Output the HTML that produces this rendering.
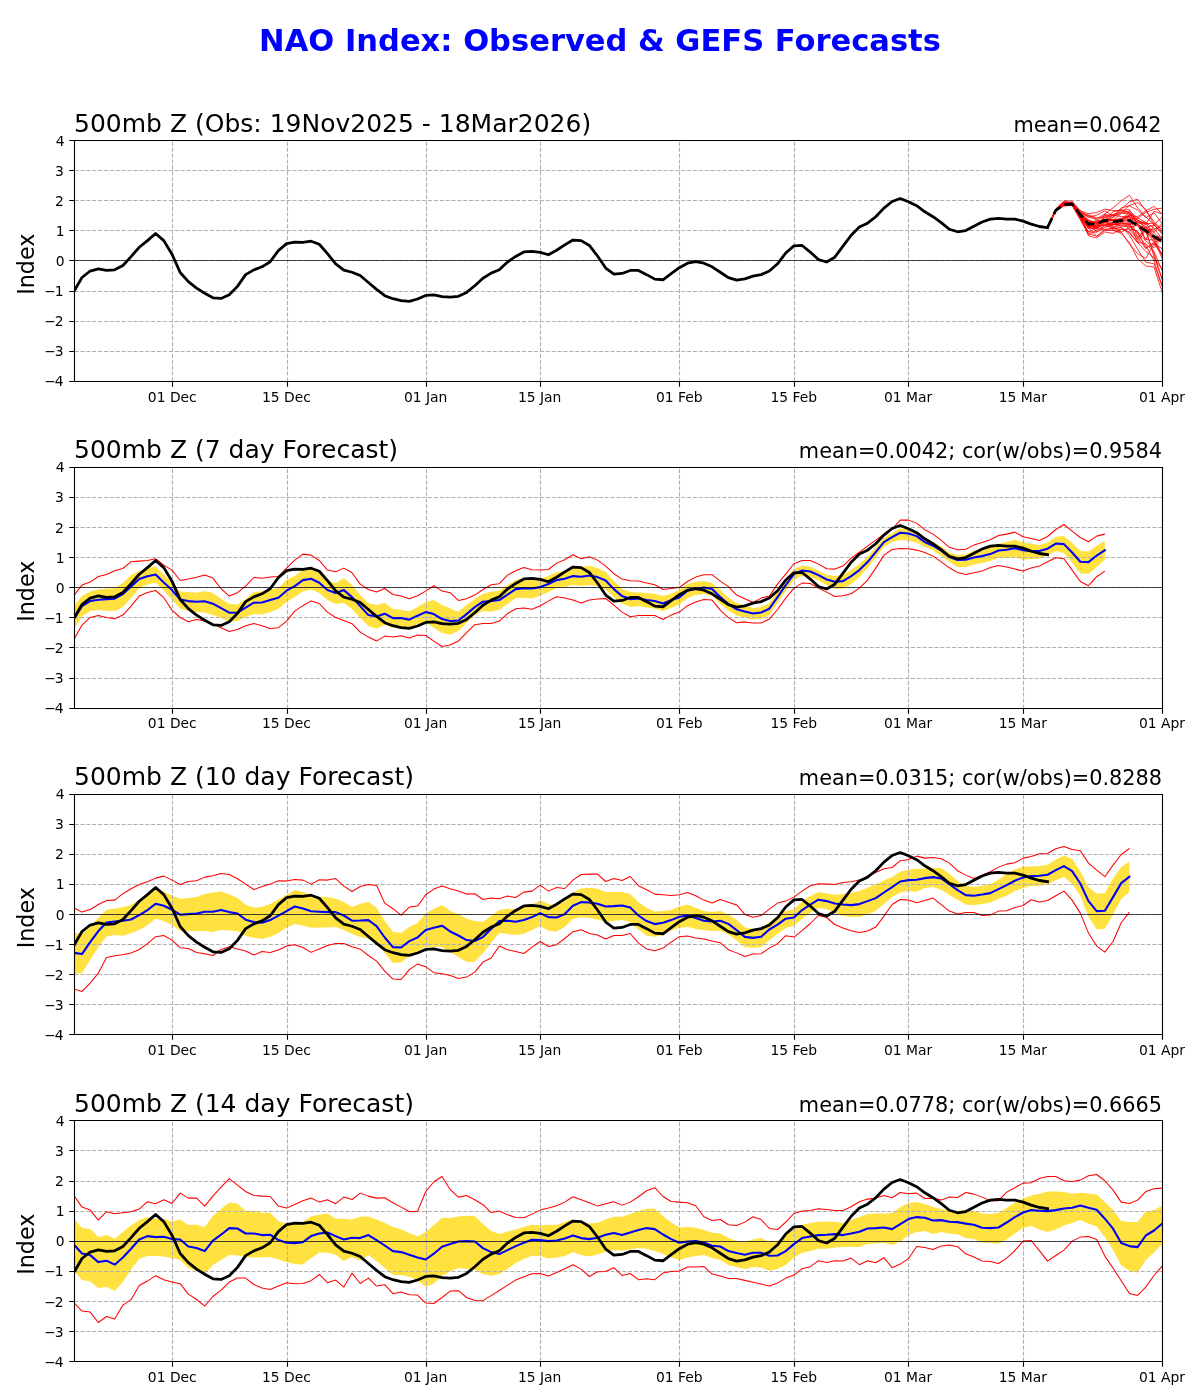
<!DOCTYPE html>
<html lang="en">
<head>
<meta charset="utf-8">
<title>NAO Index: Observed &amp; GEFS Forecasts</title>
<style>
html,body{margin:0;padding:0;background:#fff;}
body{width:1200px;height:1400px;overflow:hidden;}
svg{display:block;}
text{font-family:"DejaVu Sans", "Liberation Sans", sans-serif;fill:#000;}
.tk{font-size:13.89px;}
.pt{font-size:25.0px;}
.rt{font-size:20.83px;text-anchor:end;}
.yl{font-size:22.22px;text-anchor:middle;}
.g{stroke:#b0b0b0;stroke-width:1.11;stroke-dasharray:4.11 1.78;fill:none;}
.sp{stroke:#000;stroke-width:1.11;fill:none;stroke-linecap:square;}
.t{stroke:#000;stroke-width:1.11;fill:none;}
.z{stroke:#000;stroke-width:0.69;fill:none;}
.r{stroke:#ff0000;stroke-width:1.04;fill:none;stroke-linejoin:round;}
.m{stroke:#ff0000;stroke-width:0.8;fill:none;stroke-linejoin:round;}
.b{stroke:#0000ff;stroke-width:2.08;fill:none;stroke-linejoin:round;stroke-linecap:square;}
.o{stroke:#000;stroke-width:2.78;fill:none;stroke-linejoin:round;stroke-linecap:square;}
.d{stroke:#000;stroke-width:2.78;fill:none;stroke-linejoin:round;stroke-dasharray:10.28 4.44;}
.y{fill:#ffe140;stroke:none;}
</style>
</head>
<body>
<svg width="1200" height="1400" viewBox="0 0 1200 1400">
<rect x="0" y="0" width="1200" height="1400" fill="#ffffff"/>
<text x="600" y="51" text-anchor="middle" style="font-size:30.56px;font-weight:bold;fill:#0000ff">NAO Index: Observed &amp; GEFS Forecasts</text>
<defs>
<clipPath id="c0"><rect x="74.5" y="140.5" width="1088.0" height="241.0"/></clipPath>
<clipPath id="c1"><rect x="74.5" y="467.5" width="1088.0" height="241.0"/></clipPath>
<clipPath id="c2"><rect x="74.5" y="794.5" width="1088.0" height="240.0"/></clipPath>
<clipPath id="c3"><rect x="74.5" y="1120.5" width="1088.0" height="241.0"/></clipPath>
</defs>
<g id="panel1">
<g clip-path="url(#c0)">
<path class="g" d="M172.5,381.5V140.5M287.5,381.5V140.5M426.5,381.5V140.5M540.5,381.5V140.5M679.5,381.5V140.5M794.5,381.5V140.5M908.5,381.5V140.5M1023.5,381.5V140.5"/>
<path class="g" d="M74.5,351.5H1162.5M74.5,321.5H1162.5M74.5,291.5H1162.5M74.5,260.5H1162.5M74.5,230.5H1162.5M74.5,200.5H1162.5M74.5,170.5H1162.5"/>
<path class="m" d="M1047.58,227.46 L1055.76,210.82 L1063.94,205.24 L1072.13,205.02 L1080.31,216.87 L1088.49,228.29 L1096.67,228.77 L1104.86,213.86 L1113.04,207.85 L1121.22,200.93 L1129.41,195.21 L1137.59,207.85 L1145.77,216.87 L1153.96,224.40 L1162.14,233.42 L1170.32,242.45 L1178.50,251.47"/>
<path class="m" d="M1047.58,227.46 L1055.76,209.82 L1063.94,203.87 L1072.13,203.52 L1080.31,214.81 L1088.49,225.41 L1096.67,226.28 L1104.86,216.87 L1113.04,215.37 L1121.22,209.35 L1129.41,201.83 L1137.59,199.12 L1145.77,210.86 L1153.96,221.39 L1162.14,230.41 L1170.32,239.44 L1178.50,248.47"/>
<path class="m" d="M1047.58,227.46 L1055.76,209.81 L1063.94,205.01 L1072.13,204.18 L1080.31,215.78 L1088.49,226.95 L1096.67,224.96 L1104.86,220.39 L1113.04,219.88 L1121.22,218.38 L1129.41,215.37 L1137.59,216.87 L1145.77,210.86 L1153.96,206.34 L1162.14,213.86 L1170.32,221.39 L1178.50,228.91"/>
<path class="m" d="M1047.58,227.46 L1055.76,210.26 L1063.94,204.48 L1072.13,203.97 L1080.31,214.70 L1088.49,224.12 L1096.67,228.77 L1104.86,219.64 L1113.04,220.29 L1121.22,221.39 L1129.41,219.88 L1137.59,218.38 L1145.77,212.36 L1153.96,209.35 L1162.14,208.15 L1170.32,206.94 L1178.50,205.74"/>
<path class="m" d="M1047.58,227.46 L1055.76,209.90 L1063.94,203.03 L1072.13,204.25 L1080.31,215.52 L1088.49,221.52 L1096.67,231.92 L1104.86,225.90 L1113.04,227.40 L1121.22,231.92 L1129.41,244.25 L1137.59,253.58 L1145.77,258.39 L1153.96,243.95 L1162.14,254.48 L1170.32,265.01 L1178.50,275.54"/>
<path class="m" d="M1047.58,227.46 L1055.76,210.82 L1063.94,204.75 L1072.13,204.05 L1080.31,214.33 L1088.49,227.24 L1096.67,236.43 L1104.86,230.41 L1113.04,230.41 L1121.22,233.42 L1129.41,242.45 L1137.59,258.69 L1145.77,265.92 L1153.96,267.12 L1162.14,292.09 L1170.32,317.06 L1178.50,342.04"/>
<path class="m" d="M1047.58,227.46 L1055.76,209.81 L1063.94,203.03 L1072.13,202.81 L1080.31,212.56 L1088.49,219.96 L1096.67,227.85 L1104.86,224.78 L1113.04,224.40 L1121.22,222.89 L1129.41,224.40 L1137.59,233.42 L1145.77,245.46 L1153.96,260.50 L1162.14,286.07 L1170.32,311.65 L1178.50,337.22"/>
<path class="m" d="M1047.58,227.46 L1055.76,210.50 L1063.94,204.55 L1072.13,204.77 L1080.31,215.89 L1088.49,235.83 L1096.67,237.93 L1104.86,231.92 L1113.04,233.42 L1121.22,228.91 L1129.41,231.92 L1137.59,242.45 L1145.77,251.47 L1153.96,257.49 L1162.14,269.53 L1170.32,281.56 L1178.50,293.60"/>
<path class="m" d="M1047.58,227.46 L1055.76,210.34 L1063.94,205.31 L1072.13,205.51 L1080.31,219.55 L1088.49,234.78 L1096.67,230.14 L1104.86,225.71 L1113.04,222.47 L1121.22,220.70 L1129.41,229.41 L1137.59,239.44 L1145.77,226.47 L1153.96,237.64 L1162.14,255.94 L1170.32,243.11 L1178.50,245.52"/>
<path class="m" d="M1047.58,227.46 L1055.76,210.54 L1063.94,204.42 L1072.13,204.82 L1080.31,218.30 L1088.49,232.22 L1096.67,227.66 L1104.86,223.60 L1113.04,229.78 L1121.22,232.32 L1129.41,227.40 L1137.59,225.12 L1145.77,239.94 L1153.96,224.80 L1162.14,233.81 L1170.32,251.88 L1178.50,256.46"/>
<path class="m" d="M1047.58,227.46 L1055.76,209.00 L1063.94,202.01 L1072.13,202.78 L1080.31,215.23 L1088.49,225.17 L1096.67,226.95 L1104.86,221.81 L1113.04,226.71 L1121.22,227.27 L1129.41,234.91 L1137.59,249.14 L1145.77,262.07 L1153.96,263.81 L1162.14,286.26 L1170.32,292.08 L1178.50,288.91"/>
<path class="m" d="M1047.58,227.46 L1055.76,210.64 L1063.94,203.63 L1072.13,203.66 L1080.31,214.53 L1088.49,225.91 L1096.67,225.10 L1104.86,219.53 L1113.04,220.28 L1121.22,220.47 L1129.41,216.60 L1137.59,221.84 L1145.77,226.56 L1153.96,239.05 L1162.14,242.19 L1170.32,260.99 L1178.50,276.10"/>
<path class="m" d="M1047.58,227.46 L1055.76,209.21 L1063.94,202.02 L1072.13,202.43 L1080.31,210.81 L1088.49,213.66 L1096.67,212.48 L1104.86,209.08 L1113.04,210.49 L1121.22,210.77 L1129.41,212.29 L1137.59,224.28 L1145.77,231.72 L1153.96,253.43 L1162.14,279.22 L1170.32,275.64 L1178.50,290.64"/>
<path class="m" d="M1047.58,227.46 L1055.76,210.62 L1063.94,204.55 L1072.13,204.93 L1080.31,217.44 L1088.49,220.95 L1096.67,223.32 L1104.86,222.13 L1113.04,224.85 L1121.22,223.53 L1129.41,224.50 L1137.59,222.87 L1145.77,224.05 L1153.96,232.54 L1162.14,240.64 L1170.32,265.33 L1178.50,290.56"/>
<path class="m" d="M1047.58,227.46 L1055.76,210.40 L1063.94,203.71 L1072.13,202.69 L1080.31,213.05 L1088.49,214.96 L1096.67,217.80 L1104.86,216.88 L1113.04,220.29 L1121.22,213.28 L1129.41,213.86 L1137.59,224.85 L1145.77,227.77 L1153.96,224.88 L1162.14,231.84 L1170.32,239.26 L1178.50,232.62"/>
<path class="m" d="M1047.58,227.46 L1055.76,209.89 L1063.94,203.16 L1072.13,202.80 L1080.31,215.79 L1088.49,222.17 L1096.67,221.85 L1104.86,219.64 L1113.04,211.79 L1121.22,209.64 L1129.41,213.90 L1137.59,220.57 L1145.77,223.64 L1153.96,223.12 L1162.14,229.82 L1170.32,242.84 L1178.50,255.77"/>
<path class="m" d="M1047.58,227.46 L1055.76,210.98 L1063.94,205.63 L1072.13,205.17 L1080.31,218.04 L1088.49,231.99 L1096.67,232.19 L1104.86,227.68 L1113.04,223.84 L1121.22,225.88 L1129.41,226.39 L1137.59,231.93 L1145.77,248.42 L1153.96,243.50 L1162.14,248.65 L1170.32,283.31 L1178.50,272.92"/>
<path class="m" d="M1047.58,227.46 L1055.76,209.51 L1063.94,202.50 L1072.13,203.68 L1080.31,213.31 L1088.49,223.03 L1096.67,227.54 L1104.86,230.06 L1113.04,228.40 L1121.22,229.66 L1129.41,229.02 L1137.59,231.40 L1145.77,241.07 L1153.96,247.78 L1162.14,236.86 L1170.32,226.54 L1178.50,224.51"/>
<path class="m" d="M1047.58,227.46 L1055.76,210.90 L1063.94,204.05 L1072.13,203.38 L1080.31,214.25 L1088.49,227.08 L1096.67,226.11 L1104.86,224.84 L1113.04,225.13 L1121.22,221.28 L1129.41,214.55 L1137.59,219.83 L1145.77,228.55 L1153.96,232.38 L1162.14,223.13 L1170.32,225.96 L1178.50,244.44"/>
<path class="m" d="M1047.58,227.46 L1055.76,208.95 L1063.94,200.83 L1072.13,201.13 L1080.31,210.99 L1088.49,217.07 L1096.67,219.73 L1104.86,221.61 L1113.04,228.52 L1121.22,227.61 L1129.41,233.14 L1137.59,242.71 L1145.77,229.64 L1153.96,229.28 L1162.14,226.10 L1170.32,236.28 L1178.50,237.47"/>
<path class="m" d="M1047.58,227.46 L1055.76,210.22 L1063.94,203.52 L1072.13,203.13 L1080.31,213.18 L1088.49,226.09 L1096.67,228.35 L1104.86,222.41 L1113.04,224.43 L1121.22,225.99 L1129.41,225.64 L1137.59,237.68 L1145.77,248.38 L1153.96,242.32 L1162.14,253.66 L1170.32,240.10 L1178.50,238.76"/>
<path class="m" d="M1047.58,227.46 L1055.76,210.44 L1063.94,204.58 L1072.13,205.14 L1080.31,217.42 L1088.49,228.72 L1096.67,223.91 L1104.86,220.46 L1113.04,215.17 L1121.22,216.59 L1129.41,216.63 L1137.59,221.87 L1145.77,222.39 L1153.96,228.26 L1162.14,238.89 L1170.32,246.74 L1178.50,272.04"/>
<path class="m" d="M1047.58,227.46 L1055.76,209.37 L1063.94,202.09 L1072.13,202.87 L1080.31,213.69 L1088.49,220.02 L1096.67,222.85 L1104.86,221.97 L1113.04,217.00 L1121.22,207.79 L1129.41,205.73 L1137.59,210.02 L1145.77,217.69 L1153.96,212.71 L1162.14,223.60 L1170.32,228.95 L1178.50,229.24"/>
<path class="m" d="M1047.58,227.46 L1055.76,209.68 L1063.94,203.48 L1072.13,203.97 L1080.31,215.64 L1088.49,225.35 L1096.67,222.09 L1104.86,221.03 L1113.04,224.07 L1121.22,224.31 L1129.41,223.33 L1137.59,223.73 L1145.77,239.64 L1153.96,240.04 L1162.14,258.43 L1170.32,251.62 L1178.50,269.33"/>
<path class="m" d="M1047.58,227.46 L1055.76,211.00 L1063.94,205.96 L1072.13,205.37 L1080.31,216.90 L1088.49,227.35 L1096.67,226.02 L1104.86,218.96 L1113.04,222.98 L1121.22,221.84 L1129.41,222.16 L1137.59,242.37 L1145.77,243.76 L1153.96,251.45 L1162.14,270.36 L1170.32,279.80 L1178.50,277.89"/>
<path class="m" d="M1047.58,227.46 L1055.76,210.31 L1063.94,203.64 L1072.13,203.12 L1080.31,214.02 L1088.49,223.10 L1096.67,220.44 L1104.86,215.55 L1113.04,214.48 L1121.22,212.63 L1129.41,205.36 L1137.59,202.68 L1145.77,209.15 L1153.96,224.74 L1162.14,217.16 L1170.32,228.82 L1178.50,246.60"/>
<path class="m" d="M1047.58,227.46 L1055.76,210.80 L1063.94,204.45 L1072.13,204.37 L1080.31,213.08 L1088.49,221.78 L1096.67,223.69 L1104.86,219.88 L1113.04,220.46 L1121.22,219.09 L1129.41,216.31 L1137.59,237.56 L1145.77,229.67 L1153.96,239.39 L1162.14,238.67 L1170.32,253.09 L1178.50,252.78"/>
<path class="m" d="M1047.58,227.46 L1055.76,210.72 L1063.94,204.56 L1072.13,204.98 L1080.31,219.59 L1088.49,233.75 L1096.67,236.20 L1104.86,229.20 L1113.04,228.54 L1121.22,221.58 L1129.41,217.69 L1137.59,224.93 L1145.77,229.51 L1153.96,256.48 L1162.14,279.39 L1170.32,295.27 L1178.50,295.13"/>
<path class="m" d="M1047.58,227.46 L1055.76,209.78 L1063.94,203.88 L1072.13,203.40 L1080.31,214.02 L1088.49,222.99 L1096.67,221.86 L1104.86,219.41 L1113.04,220.03 L1121.22,219.07 L1129.41,212.49 L1137.59,219.70 L1145.77,224.57 L1153.96,211.26 L1162.14,213.83 L1170.32,216.53 L1178.50,214.24"/>
<path class="m" d="M1047.58,227.46 L1055.76,210.29 L1063.94,203.84 L1072.13,202.78 L1080.31,211.68 L1088.49,215.71 L1096.67,218.75 L1104.86,213.97 L1113.04,218.01 L1121.22,210.55 L1129.41,209.46 L1137.59,224.55 L1145.77,229.52 L1153.96,242.45 L1162.14,238.73 L1170.32,246.54 L1178.50,283.92"/>
<path class="m" d="M1047.58,227.46 L1055.76,210.07 L1063.94,204.42 L1072.13,203.52 L1080.31,213.07 L1088.49,217.08 L1096.67,215.11 L1104.86,210.80 L1113.04,216.03 L1121.22,213.34 L1129.41,211.21 L1137.59,217.85 L1145.77,222.45 L1153.96,236.51 L1162.14,236.83 L1170.32,241.42 L1178.50,241.55"/>
<path class="z" d="M74.5,260.5H1162.5"/>
<path class="o" d="M73.80,291.68 L81.98,277.50 L90.17,271.03 L98.35,268.92 L106.53,270.43 L114.72,269.83 L122.90,265.49 L131.08,256.59 L139.26,247.26 L147.45,240.64 L155.63,233.42 L163.81,240.64 L172.00,254.18 L180.18,272.54 L188.36,281.56 L196.55,288.18 L204.73,293.30 L212.91,297.81 L221.09,298.41 L229.28,294.80 L237.46,286.38 L245.64,274.64 L253.83,269.83 L262.01,266.82 L270.19,261.70 L278.38,250.57 L286.56,243.65 L294.74,242.15 L302.92,242.45 L311.11,241.24 L319.29,244.25 L327.47,253.58 L335.66,263.81 L343.84,270.13 L352.02,272.23 L360.20,275.54 L368.39,282.46 L376.57,289.38 L384.75,295.70 L392.94,298.71 L401.12,300.52 L409.30,301.42 L417.49,299.01 L425.67,295.40 L433.85,294.80 L442.04,296.61 L450.22,297.21 L458.40,296.30 L466.58,292.39 L474.77,285.77 L482.95,278.25 L491.13,273.14 L499.32,269.83 L507.50,262.00 L515.68,256.44 L523.87,251.93 L532.05,251.47 L540.23,252.38 L548.41,254.78 L556.60,250.27 L564.78,244.85 L572.96,240.04 L581.15,240.64 L589.33,245.46 L597.51,255.99 L605.69,268.02 L613.88,274.04 L622.06,273.44 L630.24,270.43 L638.43,270.43 L646.61,274.64 L654.79,279.15 L662.98,279.76 L671.16,273.74 L679.34,267.72 L687.52,263.21 L695.71,261.70 L703.89,263.21 L712.07,266.82 L720.26,272.23 L728.44,277.65 L736.62,280.06 L744.81,278.85 L752.99,276.15 L761.17,274.64 L769.35,271.03 L777.54,263.81 L785.72,252.98 L793.90,245.91 L802.09,245.46 L810.27,252.08 L818.45,259.60 L826.64,262.00 L834.82,257.19 L843.00,246.06 L851.18,235.23 L859.37,227.10 L867.55,223.19 L875.73,216.72 L883.92,208.15 L892.10,201.53 L900.28,198.52 L908.47,201.83 L916.65,205.74 L924.83,211.76 L933.01,216.72 L941.20,222.59 L949.38,229.21 L957.56,231.77 L965.75,230.56 L973.93,226.20 L982.11,221.99 L990.30,219.13 L998.48,218.38 L1006.66,219.13 L1014.84,219.13 L1023.03,221.09 L1031.21,224.09 L1039.39,226.50 L1047.58,227.70"/>
<path class="d" d="M1047.58,227.46 L1055.76,210.34 L1063.94,204.39 L1072.13,204.06 L1080.31,214.77 L1088.49,224.21 L1096.67,223.88 L1104.86,220.30 L1113.04,221.72 L1121.22,220.63 L1129.41,220.30 L1137.59,225.51 L1145.77,230.92 L1153.96,236.43 L1162.14,241.24 L1170.32,245.46 L1178.50,248.47"/>
</g>
<path class="t" d="M172.5,381.5v5.3M287.5,381.5v5.3M426.5,381.5v5.3M540.5,381.5v5.3M679.5,381.5v5.3M794.5,381.5v5.3M908.5,381.5v5.3M1023.5,381.5v5.3M1162.5,381.5v5.3M74.5,381.5h-5.3M74.5,351.5h-5.3M74.5,321.5h-5.3M74.5,291.5h-5.3M74.5,260.5h-5.3M74.5,230.5h-5.3M74.5,200.5h-5.3M74.5,170.5h-5.3M74.5,140.5h-5.3"/>
<path class="sp" d="M74.5,140.5H1162.5V381.5H74.5Z"/>
<text class="tk" x="172.3" y="402" text-anchor="middle">01 Dec</text>
<text class="tk" x="286.5" y="402" text-anchor="middle">15 Dec</text>
<text class="tk" x="425.7" y="402" text-anchor="middle">01 Jan</text>
<text class="tk" x="539.7" y="402" text-anchor="middle">15 Jan</text>
<text class="tk" x="679.3" y="402" text-anchor="middle">01 Feb</text>
<text class="tk" x="793.7" y="402" text-anchor="middle">15 Feb</text>
<text class="tk" x="908.0" y="402" text-anchor="middle">01 Mar</text>
<text class="tk" x="1022.9" y="402" text-anchor="middle">15 Mar</text>
<text class="tk" x="1162.0" y="402" text-anchor="middle">01 Apr</text>
<text class="tk" x="62.65" y="386" text-anchor="end" style="letter-spacing:-1px">−4</text>
<text class="tk" x="62.65" y="356" text-anchor="end" style="letter-spacing:-1px">−3</text>
<text class="tk" x="62.65" y="326" text-anchor="end" style="letter-spacing:-1px">−2</text>
<text class="tk" x="62.65" y="296" text-anchor="end" style="letter-spacing:-1px">−1</text>
<text class="tk" x="64.65" y="266" text-anchor="end">0</text>
<text class="tk" x="64.65" y="236" text-anchor="end">1</text>
<text class="tk" x="63.95" y="206" text-anchor="end">2</text>
<text class="tk" x="63.95" y="176" text-anchor="end">3</text>
<text class="tk" x="64.65" y="146" text-anchor="end">4</text>
<text class="yl" transform="translate(34.3,264.2) rotate(-90)">Index</text>
<text class="pt" x="74.0" y="132">500mb Z (Obs: 19Nov2025 - 18Mar2026)</text>
<text class="rt" x="1161.4" y="132" textLength="147.8" lengthAdjust="spacing">mean=0.0642</text>
</g>
<g id="panel2">
<g clip-path="url(#c1)">
<path class="y" d="M73.80,605.89 L81.98,596.10 L90.17,591.50 L98.35,589.50 L106.53,588.70 L114.72,588.10 L122.90,583.10 L131.08,575.11 L139.26,571.11 L147.45,568.11 L155.63,566.51 L163.81,574.51 L172.00,583.10 L180.18,591.50 L188.36,592.10 L196.55,592.70 L204.73,591.10 L212.91,593.10 L221.09,598.70 L229.28,604.09 L237.46,604.49 L245.64,599.10 L253.83,592.10 L262.01,591.50 L270.19,589.70 L278.38,588.10 L286.56,580.10 L294.74,576.10 L302.92,570.11 L311.11,569.31 L319.29,573.11 L327.47,581.10 L335.66,583.10 L343.84,578.10 L352.02,585.10 L360.20,595.10 L368.39,603.09 L376.57,605.09 L384.75,603.09 L392.94,609.09 L401.12,609.69 L409.30,611.49 L417.49,607.09 L425.67,602.09 L433.85,600.09 L442.04,605.09 L450.22,608.49 L458.40,611.69 L466.58,605.09 L474.77,599.10 L482.95,593.70 L491.13,591.70 L499.32,590.70 L507.50,585.10 L515.68,580.10 L523.87,578.10 L532.05,579.30 L540.23,579.10 L548.41,576.10 L556.60,572.11 L564.78,571.11 L572.96,568.11 L581.15,567.11 L589.33,565.71 L597.51,568.11 L605.69,572.11 L613.88,581.10 L622.06,589.10 L630.24,592.10 L638.43,592.50 L646.61,593.10 L654.79,593.70 L662.98,596.10 L671.16,593.50 L679.34,590.10 L687.52,584.10 L695.71,581.70 L703.89,581.10 L712.07,583.10 L720.26,590.10 L728.44,597.60 L736.62,603.09 L744.81,605.79 L752.99,608.09 L761.17,607.09 L769.35,603.09 L777.54,591.10 L785.72,579.10 L793.90,569.11 L802.09,565.51 L810.27,566.71 L818.45,570.71 L826.64,574.71 L834.82,576.10 L843.00,575.11 L851.18,570.11 L859.37,564.11 L867.55,557.11 L875.73,547.12 L883.92,538.12 L892.10,533.12 L900.28,528.52 L908.47,529.12 L916.65,531.52 L924.83,538.12 L933.01,542.12 L941.20,546.62 L949.38,552.81 L957.56,554.91 L965.75,554.41 L973.93,550.72 L982.11,548.72 L990.30,546.52 L998.48,543.72 L1006.66,542.12 L1014.84,539.72 L1023.03,542.52 L1031.21,543.72 L1039.39,545.12 L1047.58,542.52 L1055.76,536.72 L1063.94,536.12 L1072.13,543.12 L1080.31,551.12 L1088.49,551.51 L1096.67,545.72 L1104.86,541.12 L1104.86,560.11 L1096.67,567.11 L1088.49,574.11 L1080.31,573.51 L1072.13,562.51 L1063.94,553.11 L1055.76,551.12 L1047.58,555.71 L1039.39,558.71 L1031.21,559.11 L1023.03,559.71 L1014.84,557.11 L1006.66,557.71 L998.48,558.11 L990.30,561.11 L982.11,563.11 L973.93,564.51 L965.75,567.31 L957.56,566.91 L949.38,562.11 L941.20,555.91 L933.01,550.12 L924.83,547.12 L916.65,542.72 L908.47,540.72 L900.28,540.12 L892.10,542.12 L883.92,547.12 L875.73,557.51 L867.55,568.11 L859.37,577.10 L851.18,584.10 L843.00,588.70 L834.82,588.70 L826.64,585.10 L818.45,580.50 L810.27,576.70 L802.09,576.10 L793.90,580.10 L785.72,591.10 L777.54,603.09 L769.35,615.09 L761.17,619.09 L752.99,619.49 L744.81,617.59 L736.62,615.59 L728.44,610.59 L720.26,604.09 L712.07,595.70 L703.89,594.10 L695.71,595.10 L687.52,598.10 L679.34,604.49 L671.16,608.09 L662.98,611.09 L654.79,608.69 L646.61,607.49 L638.43,606.09 L630.24,607.09 L622.06,603.69 L613.88,597.10 L605.69,589.50 L597.51,586.10 L589.33,585.10 L581.15,586.10 L572.96,585.10 L564.78,587.10 L556.60,588.10 L548.41,592.10 L540.23,595.70 L532.05,598.50 L523.87,598.10 L515.68,598.10 L507.50,604.09 L499.32,609.69 L491.13,611.69 L482.95,611.09 L474.77,615.09 L466.58,623.09 L458.40,631.08 L450.22,634.68 L442.04,633.08 L433.85,628.08 L425.67,622.09 L417.49,624.08 L409.30,628.08 L401.12,626.68 L392.94,628.08 L384.75,625.08 L376.57,628.68 L368.39,626.08 L360.20,618.09 L352.02,609.09 L343.84,603.09 L335.66,604.09 L327.47,600.09 L319.29,593.10 L311.11,589.60 L302.92,591.60 L294.74,597.10 L286.56,602.09 L278.38,609.09 L270.19,612.09 L262.01,614.49 L253.83,614.09 L245.64,617.09 L237.46,621.09 L229.28,622.09 L221.09,618.09 L212.91,615.09 L204.73,612.49 L196.55,612.09 L188.36,611.09 L180.18,608.49 L172.00,599.69 L163.81,590.50 L155.63,582.50 L147.45,584.50 L139.26,588.10 L131.08,598.10 L122.90,607.09 L114.72,611.09 L106.53,610.69 L98.35,610.09 L90.17,611.09 L81.98,616.49 L73.80,629.46Z"/>
<path class="g" d="M172.5,708.5V467.5M287.5,708.5V467.5M426.5,708.5V467.5M540.5,708.5V467.5M679.5,708.5V467.5M794.5,708.5V467.5M908.5,708.5V467.5M1023.5,708.5V467.5"/>
<path class="g" d="M74.5,678.5H1162.5M74.5,647.5H1162.5M74.5,617.5H1162.5M74.5,587.5H1162.5M74.5,557.5H1162.5M74.5,527.5H1162.5M74.5,497.5H1162.5"/>
<path class="r" d="M73.80,595.63 L81.98,585.10 L90.17,582.10 L98.35,576.50 L106.53,574.51 L114.72,570.71 L122.90,568.51 L131.08,561.71 L139.26,561.11 L147.45,560.51 L155.63,558.71 L163.81,565.11 L172.00,570.11 L180.18,580.50 L188.36,579.10 L196.55,577.30 L204.73,574.91 L212.91,578.10 L221.09,588.70 L229.28,596.10 L237.46,592.70 L245.64,586.10 L253.83,577.50 L262.01,578.30 L270.19,576.90 L278.38,576.50 L286.56,568.11 L294.74,560.11 L302.92,554.11 L311.11,555.11 L319.29,560.51 L327.47,570.11 L335.66,571.71 L343.84,568.11 L352.02,572.71 L360.20,584.10 L368.39,589.50 L376.57,592.10 L384.75,588.50 L392.94,594.50 L401.12,596.10 L409.30,598.70 L417.49,595.70 L425.67,591.10 L433.85,585.70 L442.04,591.10 L450.22,592.70 L458.40,600.49 L466.58,598.70 L474.77,595.10 L482.95,589.50 L491.13,584.70 L499.32,583.70 L507.50,575.11 L515.68,570.71 L523.87,567.51 L532.05,569.71 L540.23,569.91 L548.41,569.51 L556.60,563.11 L564.78,559.71 L572.96,554.71 L581.15,558.71 L589.33,556.71 L597.51,560.11 L605.69,566.11 L613.88,573.71 L622.06,579.10 L630.24,580.70 L638.43,581.10 L646.61,583.10 L654.79,584.70 L662.98,589.50 L671.16,588.50 L679.34,587.50 L687.52,581.50 L695.71,577.10 L703.89,574.71 L712.07,574.71 L720.26,581.10 L728.44,586.60 L736.62,595.10 L744.81,598.70 L752.99,602.49 L761.17,598.10 L769.35,596.10 L777.54,584.10 L785.72,574.11 L793.90,563.71 L802.09,560.51 L810.27,560.51 L818.45,564.11 L826.64,568.71 L834.82,569.11 L843.00,566.11 L851.18,558.11 L859.37,552.11 L867.55,546.12 L875.73,540.12 L883.92,534.12 L892.10,529.12 L900.28,520.13 L908.47,520.13 L916.65,523.13 L924.83,529.72 L933.01,534.12 L941.20,540.42 L949.38,547.32 L957.56,549.72 L965.75,549.22 L973.93,545.12 L982.11,542.52 L990.30,539.72 L998.48,535.52 L1006.66,534.12 L1014.84,532.12 L1023.03,536.72 L1031.21,538.52 L1039.39,540.52 L1047.58,536.52 L1055.76,529.52 L1063.94,524.53 L1072.13,531.12 L1080.31,537.52 L1088.49,541.72 L1096.67,536.12 L1104.86,534.12"/>
<path class="r" d="M73.80,639.77 L81.98,625.08 L90.17,617.49 L98.35,615.49 L106.53,617.49 L114.72,618.69 L122.90,615.09 L131.08,606.09 L139.26,596.10 L147.45,592.50 L155.63,590.50 L163.81,597.70 L172.00,610.09 L180.18,617.49 L188.36,621.69 L196.55,619.49 L204.73,621.09 L212.91,624.08 L221.09,627.68 L229.28,631.48 L237.46,629.48 L245.64,625.68 L253.83,623.49 L262.01,625.68 L270.19,628.48 L278.38,627.68 L286.56,621.09 L294.74,611.09 L302.92,605.69 L311.11,600.89 L319.29,603.49 L327.47,612.09 L335.66,617.49 L343.84,620.49 L352.02,623.68 L360.20,632.08 L368.39,637.08 L376.57,641.08 L384.75,636.08 L392.94,637.08 L401.12,635.68 L409.30,638.08 L417.49,635.08 L425.67,635.48 L433.85,641.08 L442.04,646.48 L450.22,645.08 L458.40,641.08 L466.58,632.68 L474.77,624.68 L482.95,623.49 L491.13,623.49 L499.32,621.09 L507.50,613.69 L515.68,608.69 L523.87,608.09 L532.05,609.29 L540.23,605.69 L548.41,601.09 L556.60,596.70 L564.78,598.10 L572.96,600.09 L581.15,603.09 L589.33,600.09 L597.51,599.10 L605.69,598.50 L613.88,605.09 L622.06,612.09 L630.24,616.69 L638.43,615.49 L646.61,615.49 L654.79,615.49 L662.98,619.49 L671.16,615.09 L679.34,612.09 L687.52,605.69 L695.71,602.09 L703.89,599.50 L712.07,600.09 L720.26,610.09 L728.44,617.59 L736.62,622.69 L744.81,621.89 L752.99,623.09 L761.17,623.09 L769.35,619.09 L777.54,609.49 L785.72,598.10 L793.90,588.10 L802.09,583.10 L810.27,583.50 L818.45,588.10 L826.64,592.10 L834.82,596.50 L843.00,595.70 L851.18,593.70 L859.37,588.10 L867.55,580.10 L875.73,568.11 L883.92,555.11 L892.10,549.52 L900.28,548.52 L908.47,548.72 L916.65,550.12 L924.83,552.51 L933.01,556.11 L941.20,561.81 L949.38,567.81 L957.56,572.61 L965.75,574.61 L973.93,572.71 L982.11,571.11 L990.30,567.51 L998.48,565.51 L1006.66,567.11 L1014.84,569.11 L1023.03,571.11 L1031.21,568.11 L1039.39,566.11 L1047.58,561.71 L1055.76,557.71 L1063.94,558.71 L1072.13,570.11 L1080.31,581.50 L1088.49,585.70 L1096.67,576.70 L1104.86,571.11"/>
<path class="b" d="M73.80,618.79 L81.98,606.09 L90.17,601.09 L98.35,599.69 L106.53,599.10 L114.72,598.70 L122.90,594.10 L131.08,586.50 L139.26,579.10 L147.45,576.30 L155.63,574.51 L163.81,582.50 L172.00,590.10 L180.18,599.50 L188.36,601.09 L196.55,601.69 L204.73,601.29 L212.91,603.69 L221.09,608.09 L229.28,612.69 L237.46,612.49 L245.64,607.69 L253.83,602.69 L262.01,602.49 L270.19,600.09 L278.38,597.70 L286.56,590.70 L294.74,586.10 L302.92,580.10 L311.11,578.80 L319.29,582.70 L327.47,590.10 L335.66,593.10 L343.84,590.10 L352.02,597.10 L360.20,606.09 L368.39,615.09 L376.57,616.49 L384.75,613.69 L392.94,618.09 L401.12,618.09 L409.30,619.69 L417.49,615.69 L425.67,612.09 L433.85,614.09 L442.04,619.09 L450.22,621.09 L458.40,620.49 L466.58,614.09 L474.77,607.09 L482.95,601.69 L491.13,601.09 L499.32,600.09 L507.50,594.70 L515.68,589.10 L523.87,588.10 L532.05,588.50 L540.23,587.10 L548.41,584.10 L556.60,580.10 L564.78,578.70 L572.96,576.10 L581.15,576.70 L589.33,575.50 L597.51,577.10 L605.69,580.50 L613.88,589.10 L622.06,596.10 L630.24,599.10 L638.43,598.50 L646.61,600.09 L654.79,601.09 L662.98,603.49 L671.16,600.09 L679.34,597.50 L687.52,590.70 L695.71,588.70 L703.89,587.50 L712.07,589.10 L720.26,597.10 L728.44,604.09 L736.62,609.29 L744.81,611.59 L752.99,613.49 L761.17,612.49 L769.35,608.69 L777.54,597.10 L785.72,585.10 L793.90,574.11 L802.09,570.51 L810.27,571.51 L818.45,575.11 L826.64,579.50 L834.82,581.70 L843.00,581.10 L851.18,576.10 L859.37,570.11 L867.55,562.11 L875.73,552.11 L883.92,542.12 L892.10,537.12 L900.28,532.72 L908.47,533.52 L916.65,536.12 L924.83,542.12 L933.01,545.72 L941.20,550.62 L949.38,556.91 L957.56,559.91 L965.75,559.81 L973.93,557.51 L982.11,556.11 L990.30,554.11 L998.48,550.52 L1006.66,549.72 L1014.84,548.12 L1023.03,550.12 L1031.21,551.12 L1039.39,551.12 L1047.58,548.72 L1055.76,543.52 L1063.94,544.12 L1072.13,552.51 L1080.31,561.71 L1088.49,562.11 L1096.67,555.51 L1104.86,550.12"/>
<path class="z" d="M74.5,587.5H1162.5"/>
<path class="o" d="M73.80,618.68 L81.98,604.50 L90.17,598.03 L98.35,595.92 L106.53,597.43 L114.72,596.83 L122.90,592.49 L131.08,583.59 L139.26,574.26 L147.45,567.64 L155.63,560.42 L163.81,567.64 L172.00,581.18 L180.18,599.53 L188.36,608.56 L196.55,615.18 L204.73,620.30 L212.91,624.81 L221.09,625.41 L229.28,621.80 L237.46,613.38 L245.64,601.64 L253.83,596.83 L262.01,593.82 L270.19,588.70 L278.38,577.57 L286.56,570.65 L294.74,569.15 L302.92,569.45 L311.11,568.24 L319.29,571.25 L327.47,580.58 L335.66,590.81 L343.84,597.13 L352.02,599.23 L360.20,602.54 L368.39,609.46 L376.57,616.38 L384.75,622.70 L392.94,625.71 L401.12,627.52 L409.30,628.42 L417.49,626.01 L425.67,622.40 L433.85,621.80 L442.04,623.61 L450.22,624.21 L458.40,623.30 L466.58,619.39 L474.77,612.77 L482.95,605.25 L491.13,600.14 L499.32,596.83 L507.50,589.00 L515.68,583.44 L523.87,578.93 L532.05,578.47 L540.23,579.38 L548.41,581.78 L556.60,577.27 L564.78,571.85 L572.96,567.04 L581.15,567.64 L589.33,572.46 L597.51,582.99 L605.69,595.02 L613.88,601.04 L622.06,600.44 L630.24,597.43 L638.43,597.43 L646.61,601.64 L654.79,606.15 L662.98,606.76 L671.16,600.74 L679.34,594.72 L687.52,590.21 L695.71,588.70 L703.89,590.21 L712.07,593.82 L720.26,599.23 L728.44,604.65 L736.62,607.06 L744.81,605.85 L752.99,603.15 L761.17,601.64 L769.35,598.03 L777.54,590.81 L785.72,579.98 L793.90,572.91 L802.09,572.46 L810.27,579.08 L818.45,586.60 L826.64,589.00 L834.82,584.19 L843.00,573.06 L851.18,562.23 L859.37,554.10 L867.55,550.19 L875.73,543.72 L883.92,535.15 L892.10,528.53 L900.28,525.52 L908.47,528.83 L916.65,532.74 L924.83,538.76 L933.01,543.72 L941.20,549.59 L949.38,556.21 L957.56,558.77 L965.75,557.56 L973.93,553.20 L982.11,548.99 L990.30,546.13 L998.48,545.38 L1006.66,546.13 L1014.84,546.13 L1023.03,548.09 L1031.21,551.09 L1039.39,553.50 L1047.58,554.70"/>
</g>
<path class="t" d="M172.5,708.5v5.3M287.5,708.5v5.3M426.5,708.5v5.3M540.5,708.5v5.3M679.5,708.5v5.3M794.5,708.5v5.3M908.5,708.5v5.3M1023.5,708.5v5.3M1162.5,708.5v5.3M74.5,708.5h-5.3M74.5,678.5h-5.3M74.5,647.5h-5.3M74.5,617.5h-5.3M74.5,587.5h-5.3M74.5,557.5h-5.3M74.5,527.5h-5.3M74.5,497.5h-5.3M74.5,467.5h-5.3"/>
<path class="sp" d="M74.5,467.5H1162.5V708.5H74.5Z"/>
<text class="tk" x="172.3" y="728" text-anchor="middle">01 Dec</text>
<text class="tk" x="286.5" y="728" text-anchor="middle">15 Dec</text>
<text class="tk" x="425.7" y="728" text-anchor="middle">01 Jan</text>
<text class="tk" x="539.7" y="728" text-anchor="middle">15 Jan</text>
<text class="tk" x="679.3" y="728" text-anchor="middle">01 Feb</text>
<text class="tk" x="793.7" y="728" text-anchor="middle">15 Feb</text>
<text class="tk" x="908.0" y="728" text-anchor="middle">01 Mar</text>
<text class="tk" x="1022.9" y="728" text-anchor="middle">15 Mar</text>
<text class="tk" x="1162.0" y="728" text-anchor="middle">01 Apr</text>
<text class="tk" x="62.65" y="713" text-anchor="end" style="letter-spacing:-1px">−4</text>
<text class="tk" x="62.65" y="683" text-anchor="end" style="letter-spacing:-1px">−3</text>
<text class="tk" x="62.65" y="653" text-anchor="end" style="letter-spacing:-1px">−2</text>
<text class="tk" x="62.65" y="623" text-anchor="end" style="letter-spacing:-1px">−1</text>
<text class="tk" x="64.65" y="593" text-anchor="end">0</text>
<text class="tk" x="64.65" y="563" text-anchor="end">1</text>
<text class="tk" x="63.95" y="533" text-anchor="end">2</text>
<text class="tk" x="63.95" y="502" text-anchor="end">3</text>
<text class="tk" x="64.65" y="472" text-anchor="end">4</text>
<text class="yl" transform="translate(34.3,591.2) rotate(-90)">Index</text>
<text class="pt" x="74.0" y="458">500mb Z (7 day Forecast)</text>
<text class="rt" x="1162.1" y="458">mean=0.0042; cor(w/obs)=0.9584</text>
</g>
<g id="panel3">
<g clip-path="url(#c2)">
<path class="y" d="M73.80,932.87 L81.98,934.09 L90.17,927.09 L98.35,917.70 L106.53,909.70 L114.72,908.70 L122.90,907.10 L131.08,905.10 L139.26,899.51 L147.45,894.51 L155.63,888.51 L163.81,891.71 L172.00,895.71 L180.18,898.71 L188.36,898.11 L196.55,897.11 L204.73,894.11 L212.91,892.51 L221.09,891.51 L229.28,894.51 L237.46,898.11 L245.64,904.70 L253.83,907.50 L262.01,907.10 L270.19,904.10 L278.38,899.51 L286.56,895.11 L294.74,890.11 L302.92,892.11 L311.11,895.31 L319.29,896.71 L327.47,897.11 L335.66,898.71 L343.84,902.11 L352.02,907.10 L360.20,904.10 L368.39,901.71 L376.57,907.70 L384.75,921.10 L392.94,931.69 L401.12,933.09 L409.30,927.09 L417.49,923.10 L425.67,913.50 L433.85,908.70 L442.04,905.10 L450.22,911.10 L458.40,914.10 L466.58,918.70 L474.77,921.10 L482.95,921.70 L491.13,916.10 L499.32,909.70 L507.50,908.70 L515.68,909.10 L523.87,907.10 L532.05,905.10 L540.23,900.11 L548.41,904.10 L556.60,906.10 L564.78,901.11 L572.96,892.51 L581.15,888.51 L589.33,887.71 L597.51,888.71 L605.69,892.11 L613.88,892.11 L622.06,892.11 L630.24,894.11 L638.43,902.11 L646.61,908.10 L654.79,911.50 L662.98,911.10 L671.16,910.10 L679.34,906.50 L687.52,904.50 L695.71,907.70 L703.89,911.10 L712.07,912.10 L720.26,911.10 L728.44,914.40 L736.62,920.10 L744.81,927.29 L752.99,929.09 L761.17,928.09 L769.35,922.10 L777.54,916.10 L785.72,911.10 L793.90,909.50 L802.09,901.51 L810.27,896.11 L818.45,892.11 L826.64,893.51 L834.82,894.71 L843.00,894.11 L851.18,893.11 L859.37,891.11 L867.55,887.71 L875.73,884.11 L883.92,880.51 L892.10,877.12 L900.28,871.72 L908.47,869.72 L916.65,868.72 L924.83,868.72 L933.01,867.72 L941.20,868.12 L949.38,874.12 L957.56,881.11 L965.75,886.11 L973.93,887.11 L982.11,885.71 L990.30,884.11 L998.48,879.71 L1006.66,874.12 L1014.84,869.52 L1023.03,866.72 L1031.21,866.52 L1039.39,866.12 L1047.58,864.72 L1055.76,859.72 L1063.94,855.52 L1072.13,859.12 L1080.31,871.52 L1088.49,887.11 L1096.67,893.71 L1104.86,893.11 L1113.04,878.51 L1121.22,867.12 L1129.41,861.52 L1129.41,892.11 L1121.22,899.11 L1113.04,914.70 L1104.86,928.69 L1096.67,929.49 L1088.49,916.70 L1080.31,895.71 L1072.13,883.71 L1063.94,877.12 L1055.76,880.11 L1047.58,884.51 L1039.39,885.71 L1031.21,886.11 L1023.03,888.11 L1014.84,891.11 L1006.66,895.71 L998.48,898.71 L990.30,902.50 L982.11,904.10 L973.93,905.10 L965.75,904.70 L957.56,899.71 L949.38,895.11 L941.20,889.71 L933.01,887.11 L924.83,888.11 L916.65,891.71 L908.47,891.11 L900.28,892.51 L892.10,897.11 L883.92,904.10 L875.73,911.10 L867.55,914.50 L859.37,917.10 L851.18,917.10 L843.00,916.10 L834.82,913.10 L826.64,909.10 L818.45,908.10 L810.27,912.70 L802.09,919.10 L793.90,926.10 L785.72,928.09 L777.54,934.09 L769.35,940.09 L761.17,947.09 L752.99,947.79 L744.81,947.09 L736.62,940.39 L728.44,934.39 L720.26,930.69 L712.07,931.09 L703.89,930.09 L695.71,929.09 L687.52,927.09 L679.34,927.69 L671.16,930.69 L662.98,935.09 L654.79,936.69 L646.61,935.69 L638.43,929.49 L630.24,922.10 L622.06,920.10 L613.88,920.70 L605.69,922.10 L597.51,919.50 L589.33,918.10 L581.15,917.10 L572.96,919.10 L564.78,927.09 L556.60,931.49 L548.41,930.69 L540.23,926.10 L532.05,930.09 L523.87,933.69 L515.68,935.09 L507.50,934.09 L499.32,933.09 L491.13,943.09 L482.95,953.08 L474.77,961.68 L466.58,961.68 L458.40,957.08 L450.22,952.08 L442.04,947.09 L433.85,946.69 L425.67,947.09 L417.49,951.68 L409.30,956.08 L401.12,962.48 L392.94,963.08 L384.75,953.08 L376.57,943.09 L368.39,939.09 L360.20,937.09 L352.02,934.09 L343.84,930.09 L335.66,927.09 L327.47,927.49 L319.29,927.49 L311.11,927.79 L302.92,925.50 L294.74,924.10 L286.56,927.49 L278.38,933.09 L270.19,937.09 L262.01,939.09 L253.83,937.69 L245.64,936.09 L237.46,931.09 L229.28,930.49 L221.09,930.09 L212.91,932.09 L204.73,931.09 L196.55,931.09 L188.36,931.09 L180.18,931.09 L172.00,925.10 L163.81,921.10 L155.63,918.70 L147.45,925.10 L139.26,930.09 L131.08,933.09 L122.90,935.69 L114.72,935.09 L106.53,936.49 L98.35,947.09 L90.17,960.08 L81.98,973.08 L73.80,973.81Z"/>
<path class="g" d="M172.5,1034.5V794.5M287.5,1034.5V794.5M426.5,1034.5V794.5M540.5,1034.5V794.5M679.5,1034.5V794.5M794.5,1034.5V794.5M908.5,1034.5V794.5M1023.5,1034.5V794.5"/>
<path class="g" d="M74.5,1004.5H1162.5M74.5,974.5H1162.5M74.5,944.5H1162.5M74.5,914.5H1162.5M74.5,884.5H1162.5M74.5,854.5H1162.5M74.5,824.5H1162.5"/>
<path class="r" d="M73.80,907.69 L81.98,912.10 L90.17,909.50 L98.35,904.50 L106.53,900.51 L114.72,900.11 L122.90,893.71 L131.08,888.71 L139.26,884.51 L147.45,881.71 L155.63,878.12 L163.81,876.12 L172.00,880.11 L180.18,884.51 L188.36,881.51 L196.55,880.71 L204.73,877.12 L212.91,875.72 L221.09,873.52 L229.28,874.52 L237.46,878.71 L245.64,884.11 L253.83,889.51 L262.01,886.51 L270.19,884.11 L278.38,880.71 L286.56,881.11 L294.74,879.51 L302.92,880.11 L311.11,884.11 L319.29,879.71 L327.47,880.11 L335.66,878.51 L343.84,886.11 L352.02,891.51 L360.20,886.51 L368.39,884.51 L376.57,885.51 L384.75,903.10 L392.94,908.70 L401.12,915.10 L409.30,907.10 L417.49,906.10 L425.67,894.71 L433.85,889.11 L442.04,886.11 L450.22,888.71 L458.40,891.11 L466.58,894.11 L474.77,893.71 L482.95,899.51 L491.13,898.11 L499.32,898.71 L507.50,896.11 L515.68,897.51 L523.87,892.11 L532.05,891.11 L540.23,885.11 L548.41,891.11 L556.60,887.51 L564.78,888.51 L572.96,880.11 L581.15,874.52 L589.33,874.12 L597.51,874.12 L605.69,881.51 L613.88,878.51 L622.06,880.51 L630.24,876.52 L638.43,885.71 L646.61,889.71 L654.79,894.11 L662.98,894.71 L671.16,895.51 L679.34,894.71 L687.52,892.51 L695.71,895.71 L703.89,900.11 L712.07,903.10 L720.26,899.51 L728.44,902.31 L736.62,904.90 L744.81,914.40 L752.99,917.30 L761.17,915.50 L769.35,909.10 L777.54,903.10 L785.72,901.11 L793.90,897.11 L802.09,891.11 L810.27,885.71 L818.45,883.71 L826.64,884.11 L834.82,884.51 L843.00,882.51 L851.18,881.71 L859.37,880.11 L867.55,876.12 L875.73,872.52 L883.92,868.72 L892.10,867.52 L900.28,860.72 L908.47,859.52 L916.65,856.12 L924.83,858.12 L933.01,857.52 L941.20,858.72 L949.38,863.12 L957.56,870.72 L965.75,875.12 L973.93,878.51 L982.11,875.12 L990.30,871.72 L998.48,867.12 L1006.66,864.12 L1014.84,862.72 L1023.03,858.12 L1031.21,856.52 L1039.39,853.73 L1047.58,853.53 L1055.76,848.73 L1063.94,846.53 L1072.13,849.53 L1080.31,850.73 L1088.49,863.12 L1096.67,870.12 L1104.86,876.72 L1113.04,865.12 L1121.22,854.52 L1129.41,848.53"/>
<path class="r" d="M73.80,989.02 L81.98,991.47 L90.17,983.07 L98.35,973.08 L106.53,957.48 L114.72,955.68 L122.90,954.68 L131.08,953.08 L139.26,949.49 L147.45,943.69 L155.63,936.69 L163.81,935.49 L172.00,940.09 L180.18,947.69 L188.36,948.49 L196.55,952.48 L204.73,953.68 L212.91,955.48 L221.09,949.49 L229.28,946.69 L237.46,949.09 L245.64,951.08 L253.83,955.08 L262.01,951.48 L270.19,952.48 L278.38,950.09 L286.56,946.09 L294.74,944.69 L302.92,947.49 L311.11,952.38 L319.29,949.09 L327.47,945.49 L335.66,943.49 L343.84,943.49 L352.02,946.69 L360.20,949.09 L368.39,955.48 L376.57,961.08 L384.75,971.08 L392.94,979.07 L401.12,979.47 L409.30,969.68 L417.49,964.08 L425.67,966.68 L433.85,972.68 L442.04,973.68 L450.22,975.47 L458.40,978.47 L466.58,977.07 L474.77,972.08 L482.95,962.08 L491.13,958.08 L499.32,946.09 L507.50,949.69 L515.68,951.48 L523.87,953.48 L532.05,947.09 L540.23,941.49 L548.41,946.49 L556.60,944.69 L564.78,938.49 L572.96,931.69 L581.15,929.69 L589.33,933.49 L597.51,935.09 L605.69,939.09 L613.88,935.49 L622.06,935.49 L630.24,933.49 L638.43,943.09 L646.61,949.09 L654.79,950.68 L662.98,948.09 L671.16,942.09 L679.34,936.69 L687.52,936.09 L695.71,938.09 L703.89,939.09 L712.07,941.09 L720.26,942.69 L728.44,949.79 L736.62,952.88 L744.81,956.58 L752.99,954.08 L761.17,953.68 L769.35,948.09 L777.54,943.69 L785.72,935.69 L793.90,937.09 L802.09,930.69 L810.27,923.50 L818.45,915.50 L826.64,917.50 L834.82,924.50 L843.00,928.09 L851.18,930.69 L859.37,932.49 L867.55,931.09 L875.73,927.09 L883.92,916.10 L892.10,904.50 L900.28,899.51 L908.47,900.11 L916.65,902.70 L924.83,900.51 L933.01,898.11 L941.20,904.70 L949.38,911.10 L957.56,914.10 L965.75,912.50 L973.93,912.50 L982.11,915.50 L990.30,915.10 L998.48,911.10 L1006.66,910.70 L1014.84,907.50 L1023.03,905.50 L1031.21,899.71 L1039.39,902.11 L1047.58,900.51 L1055.76,895.71 L1063.94,891.11 L1072.13,900.11 L1080.31,913.10 L1088.49,933.09 L1096.67,946.09 L1104.86,952.08 L1113.04,941.49 L1121.22,922.70 L1129.41,912.10"/>
<path class="b" d="M73.80,952.86 L81.98,954.08 L90.17,942.09 L98.35,931.09 L106.53,922.50 L114.72,921.50 L122.90,920.70 L131.08,919.50 L139.26,915.10 L147.45,910.10 L155.63,903.70 L163.81,905.70 L172.00,909.70 L180.18,914.70 L188.36,914.10 L196.55,913.50 L204.73,911.70 L212.91,911.70 L221.09,910.10 L229.28,912.10 L237.46,913.50 L245.64,919.70 L253.83,922.10 L262.01,922.70 L270.19,920.10 L278.38,915.70 L286.56,911.10 L294.74,906.50 L302.92,908.50 L311.11,911.30 L319.29,911.70 L327.47,912.10 L335.66,912.10 L343.84,915.50 L352.02,920.70 L360.20,920.50 L368.39,920.10 L376.57,926.10 L384.75,937.49 L392.94,947.09 L401.12,947.49 L409.30,941.09 L417.49,937.49 L425.67,930.09 L433.85,927.69 L442.04,925.70 L450.22,931.49 L458.40,935.49 L466.58,940.09 L474.77,941.09 L482.95,937.09 L491.13,929.09 L499.32,921.10 L507.50,920.70 L515.68,921.70 L523.87,920.10 L532.05,917.10 L540.23,913.10 L548.41,917.10 L556.60,917.50 L564.78,914.10 L572.96,905.70 L581.15,902.11 L589.33,902.50 L597.51,903.70 L605.69,906.50 L613.88,906.10 L622.06,905.50 L630.24,907.50 L638.43,915.50 L646.61,921.10 L654.79,924.10 L662.98,922.70 L671.16,920.10 L679.34,916.70 L687.52,915.50 L695.71,918.10 L703.89,920.70 L712.07,921.50 L720.26,920.70 L728.44,923.90 L736.62,930.09 L744.81,936.89 L752.99,937.89 L761.17,936.69 L769.35,929.49 L777.54,924.70 L785.72,918.70 L793.90,917.50 L802.09,910.10 L810.27,904.70 L818.45,899.71 L826.64,901.11 L834.82,903.50 L843.00,904.50 L851.18,905.10 L859.37,904.10 L867.55,901.11 L875.73,898.11 L883.92,892.51 L892.10,887.11 L900.28,881.51 L908.47,880.11 L916.65,879.71 L924.83,878.12 L933.01,877.12 L941.20,878.51 L949.38,884.11 L957.56,890.11 L965.75,895.11 L973.93,895.71 L982.11,894.51 L990.30,893.11 L998.48,889.11 L1006.66,885.11 L1014.84,880.71 L1023.03,877.52 L1031.21,876.12 L1039.39,875.72 L1047.58,874.72 L1055.76,870.12 L1063.94,866.12 L1072.13,871.12 L1080.31,883.51 L1088.49,901.11 L1096.67,911.10 L1104.86,910.70 L1113.04,897.11 L1121.22,883.11 L1129.41,876.72"/>
<path class="z" d="M74.5,914.5H1162.5"/>
<path class="o" d="M73.80,945.68 L81.98,931.50 L90.17,925.03 L98.35,922.92 L106.53,924.43 L114.72,923.83 L122.90,919.49 L131.08,910.59 L139.26,901.26 L147.45,894.64 L155.63,887.42 L163.81,894.64 L172.00,908.18 L180.18,926.53 L188.36,935.56 L196.55,942.18 L204.73,947.30 L212.91,951.81 L221.09,952.41 L229.28,948.80 L237.46,940.38 L245.64,928.64 L253.83,923.83 L262.01,920.82 L270.19,915.70 L278.38,904.57 L286.56,897.65 L294.74,896.15 L302.92,896.45 L311.11,895.24 L319.29,898.25 L327.47,907.58 L335.66,917.81 L343.84,924.13 L352.02,926.23 L360.20,929.54 L368.39,936.46 L376.57,943.38 L384.75,949.70 L392.94,952.71 L401.12,954.52 L409.30,955.42 L417.49,953.01 L425.67,949.40 L433.85,948.80 L442.04,950.61 L450.22,951.21 L458.40,950.30 L466.58,946.39 L474.77,939.77 L482.95,932.25 L491.13,927.14 L499.32,923.83 L507.50,916.00 L515.68,910.44 L523.87,905.93 L532.05,905.47 L540.23,906.38 L548.41,908.78 L556.60,904.27 L564.78,898.85 L572.96,894.04 L581.15,894.64 L589.33,899.46 L597.51,909.99 L605.69,922.02 L613.88,928.04 L622.06,927.44 L630.24,924.43 L638.43,924.43 L646.61,928.64 L654.79,933.15 L662.98,933.76 L671.16,927.74 L679.34,921.72 L687.52,917.21 L695.71,915.70 L703.89,917.21 L712.07,920.82 L720.26,926.23 L728.44,931.65 L736.62,934.06 L744.81,932.85 L752.99,930.15 L761.17,928.64 L769.35,925.03 L777.54,917.81 L785.72,906.98 L793.90,899.91 L802.09,899.46 L810.27,906.08 L818.45,913.60 L826.64,916.00 L834.82,911.19 L843.00,900.06 L851.18,889.23 L859.37,881.10 L867.55,877.19 L875.73,870.72 L883.92,862.15 L892.10,855.53 L900.28,852.52 L908.47,855.83 L916.65,859.74 L924.83,865.76 L933.01,870.72 L941.20,876.59 L949.38,883.21 L957.56,885.77 L965.75,884.56 L973.93,880.20 L982.11,875.99 L990.30,873.13 L998.48,872.38 L1006.66,873.13 L1014.84,873.13 L1023.03,875.09 L1031.21,878.09 L1039.39,880.50 L1047.58,881.70"/>
</g>
<path class="t" d="M172.5,1034.5v5.3M287.5,1034.5v5.3M426.5,1034.5v5.3M540.5,1034.5v5.3M679.5,1034.5v5.3M794.5,1034.5v5.3M908.5,1034.5v5.3M1023.5,1034.5v5.3M1162.5,1034.5v5.3M74.5,1034.5h-5.3M74.5,1004.5h-5.3M74.5,974.5h-5.3M74.5,944.5h-5.3M74.5,914.5h-5.3M74.5,884.5h-5.3M74.5,854.5h-5.3M74.5,824.5h-5.3M74.5,794.5h-5.3"/>
<path class="sp" d="M74.5,794.5H1162.5V1034.5H74.5Z"/>
<text class="tk" x="172.3" y="1055" text-anchor="middle">01 Dec</text>
<text class="tk" x="286.5" y="1055" text-anchor="middle">15 Dec</text>
<text class="tk" x="425.7" y="1055" text-anchor="middle">01 Jan</text>
<text class="tk" x="539.7" y="1055" text-anchor="middle">15 Jan</text>
<text class="tk" x="679.3" y="1055" text-anchor="middle">01 Feb</text>
<text class="tk" x="793.7" y="1055" text-anchor="middle">15 Feb</text>
<text class="tk" x="908.0" y="1055" text-anchor="middle">01 Mar</text>
<text class="tk" x="1022.9" y="1055" text-anchor="middle">15 Mar</text>
<text class="tk" x="1162.0" y="1055" text-anchor="middle">01 Apr</text>
<text class="tk" x="62.65" y="1040" text-anchor="end" style="letter-spacing:-1px">−4</text>
<text class="tk" x="62.65" y="1010" text-anchor="end" style="letter-spacing:-1px">−3</text>
<text class="tk" x="62.65" y="980" text-anchor="end" style="letter-spacing:-1px">−2</text>
<text class="tk" x="62.65" y="950" text-anchor="end" style="letter-spacing:-1px">−1</text>
<text class="tk" x="64.65" y="920" text-anchor="end">0</text>
<text class="tk" x="64.65" y="889" text-anchor="end">1</text>
<text class="tk" x="63.95" y="859" text-anchor="end">2</text>
<text class="tk" x="63.95" y="829" text-anchor="end">3</text>
<text class="tk" x="64.65" y="799" text-anchor="end">4</text>
<text class="yl" transform="translate(34.3,917.7) rotate(-90)">Index</text>
<text class="pt" x="74.0" y="785">500mb Z (10 day Forecast)</text>
<text class="rt" x="1162.1" y="785">mean=0.0315; cor(w/obs)=0.8288</text>
</g>
<g id="panel4">
<g clip-path="url(#c3)">
<path class="y" d="M73.80,1218.31 L81.98,1228.11 L90.17,1229.11 L98.35,1237.10 L106.53,1235.10 L114.72,1238.70 L122.90,1232.10 L131.08,1225.51 L139.26,1220.11 L147.45,1217.11 L155.63,1219.11 L163.81,1219.11 L172.00,1221.51 L180.18,1219.51 L188.36,1225.11 L196.55,1224.71 L204.73,1227.11 L212.91,1216.11 L221.09,1209.11 L229.28,1202.52 L237.46,1203.72 L245.64,1211.11 L253.83,1210.71 L262.01,1213.11 L270.19,1212.71 L278.38,1221.11 L286.56,1223.71 L294.74,1224.11 L302.92,1222.11 L311.11,1216.21 L319.29,1214.71 L327.47,1213.51 L335.66,1218.71 L343.84,1218.71 L352.02,1219.51 L360.20,1216.71 L368.39,1216.51 L376.57,1219.51 L384.75,1223.11 L392.94,1226.71 L401.12,1229.50 L409.30,1233.10 L417.49,1236.50 L425.67,1232.10 L433.85,1225.11 L442.04,1217.71 L450.22,1218.11 L458.40,1216.51 L466.58,1215.71 L474.77,1216.11 L482.95,1224.11 L491.13,1231.10 L499.32,1234.10 L507.50,1231.50 L515.68,1229.50 L523.87,1227.11 L532.05,1224.81 L540.23,1225.51 L548.41,1224.71 L556.60,1225.11 L564.78,1222.11 L572.96,1219.51 L581.15,1222.11 L589.33,1223.51 L597.51,1222.71 L605.69,1219.51 L613.88,1216.71 L622.06,1216.71 L630.24,1214.11 L638.43,1211.11 L646.61,1208.71 L654.79,1208.71 L662.98,1216.11 L671.16,1222.51 L679.34,1227.51 L687.52,1227.11 L695.71,1227.71 L703.89,1230.10 L712.07,1232.70 L720.26,1233.50 L728.44,1237.80 L736.62,1240.90 L744.81,1241.90 L752.99,1239.20 L761.17,1238.10 L769.35,1242.10 L777.54,1240.70 L785.72,1235.10 L793.90,1229.11 L802.09,1224.71 L810.27,1223.11 L818.45,1221.71 L826.64,1221.51 L834.82,1221.71 L843.00,1223.11 L851.18,1220.11 L859.37,1217.11 L867.55,1214.11 L875.73,1213.51 L883.92,1213.51 L892.10,1213.11 L900.28,1207.11 L908.47,1203.12 L916.65,1202.12 L924.83,1204.12 L933.01,1207.11 L941.20,1209.11 L949.38,1210.61 L957.56,1210.81 L965.75,1209.81 L973.93,1211.11 L982.11,1213.51 L990.30,1214.11 L998.48,1213.11 L1006.66,1208.11 L1014.84,1202.52 L1023.03,1198.52 L1031.21,1195.52 L1039.39,1193.72 L1047.58,1191.52 L1055.76,1191.52 L1063.94,1192.12 L1072.13,1193.72 L1080.31,1192.72 L1088.49,1193.52 L1096.67,1194.52 L1104.86,1202.12 L1113.04,1210.11 L1121.22,1221.11 L1129.41,1222.11 L1137.59,1222.11 L1145.77,1211.51 L1153.96,1210.11 L1162.14,1205.71 L1162.14,1244.10 L1153.96,1252.50 L1145.77,1260.09 L1137.59,1272.69 L1129.41,1270.49 L1121.22,1265.49 L1113.04,1250.10 L1104.86,1237.10 L1096.67,1226.51 L1088.49,1223.71 L1080.31,1220.11 L1072.13,1223.11 L1063.94,1225.51 L1055.76,1229.50 L1047.58,1232.10 L1039.39,1229.50 L1031.21,1226.11 L1023.03,1228.11 L1014.84,1233.50 L1006.66,1239.50 L998.48,1243.70 L990.30,1243.10 L982.11,1242.50 L973.93,1239.10 L965.75,1238.10 L957.56,1234.30 L949.38,1233.80 L941.20,1232.10 L933.01,1234.10 L924.83,1231.10 L916.65,1232.10 L908.47,1235.10 L900.28,1241.70 L892.10,1245.10 L883.92,1242.70 L875.73,1243.50 L867.55,1244.10 L859.37,1247.10 L851.18,1246.70 L843.00,1247.10 L834.82,1247.50 L826.64,1248.70 L818.45,1248.70 L810.27,1251.10 L802.09,1252.70 L793.90,1257.49 L785.72,1265.09 L777.54,1269.09 L769.35,1270.69 L761.17,1267.49 L752.99,1267.29 L744.81,1268.89 L736.62,1266.99 L728.44,1265.29 L720.26,1260.09 L712.07,1258.09 L703.89,1255.09 L695.71,1256.09 L687.52,1257.49 L679.34,1260.09 L671.16,1257.49 L662.98,1254.09 L654.79,1251.10 L646.61,1248.70 L638.43,1248.10 L630.24,1249.50 L622.06,1250.70 L613.88,1250.10 L605.69,1251.70 L597.51,1254.49 L589.33,1256.49 L581.15,1255.09 L572.96,1252.10 L564.78,1256.09 L556.60,1257.49 L548.41,1258.49 L540.23,1256.09 L532.05,1255.79 L523.87,1259.09 L515.68,1263.09 L507.50,1269.09 L499.32,1274.09 L491.13,1275.69 L482.95,1274.09 L474.77,1269.49 L466.58,1268.69 L458.40,1268.09 L450.22,1271.49 L442.04,1276.09 L433.85,1283.48 L425.67,1287.08 L417.49,1280.08 L409.30,1276.69 L401.12,1275.09 L392.94,1275.09 L384.75,1268.09 L376.57,1261.09 L368.39,1255.09 L360.20,1260.69 L352.02,1257.09 L343.84,1261.09 L335.66,1254.69 L327.47,1252.50 L319.29,1252.70 L311.11,1258.09 L302.92,1264.49 L294.74,1264.09 L286.56,1262.09 L278.38,1259.49 L270.19,1257.09 L262.01,1257.49 L253.83,1257.49 L245.64,1257.09 L237.46,1255.49 L229.28,1255.09 L221.09,1260.09 L212.91,1265.09 L204.73,1274.09 L196.55,1271.09 L188.36,1268.09 L180.18,1260.09 L172.00,1258.09 L163.81,1256.49 L155.63,1256.09 L147.45,1256.09 L139.26,1258.69 L131.08,1269.49 L122.90,1282.08 L114.72,1291.08 L106.53,1287.08 L98.35,1288.08 L90.17,1281.48 L81.98,1280.08 L73.80,1270.29Z"/>
<path class="g" d="M172.5,1361.5V1120.5M287.5,1361.5V1120.5M426.5,1361.5V1120.5M540.5,1361.5V1120.5M679.5,1361.5V1120.5M794.5,1361.5V1120.5M908.5,1361.5V1120.5M1023.5,1361.5V1120.5"/>
<path class="g" d="M74.5,1331.5H1162.5M74.5,1301.5H1162.5M74.5,1271.5H1162.5M74.5,1241.5H1162.5M74.5,1211.5H1162.5M74.5,1181.5H1162.5M74.5,1150.5H1162.5"/>
<path class="r" d="M73.80,1195.36 L81.98,1207.11 L90.17,1210.11 L98.35,1220.11 L106.53,1211.71 L114.72,1213.71 L122.90,1212.71 L131.08,1211.71 L139.26,1209.11 L147.45,1201.72 L155.63,1203.72 L163.81,1199.72 L172.00,1203.52 L180.18,1193.12 L188.36,1198.12 L196.55,1198.12 L204.73,1206.11 L212.91,1196.12 L221.09,1187.12 L229.28,1178.53 L237.46,1185.12 L245.64,1191.52 L253.83,1195.52 L262.01,1196.12 L270.19,1196.52 L278.38,1206.11 L286.56,1208.11 L294.74,1204.52 L302.92,1200.72 L311.11,1197.92 L319.29,1202.12 L327.47,1199.72 L335.66,1203.72 L343.84,1197.12 L352.02,1199.52 L360.20,1193.12 L368.39,1196.12 L376.57,1198.12 L384.75,1197.72 L392.94,1202.72 L401.12,1207.11 L409.30,1211.51 L417.49,1211.51 L425.67,1191.72 L433.85,1181.72 L442.04,1176.53 L450.22,1189.72 L458.40,1197.12 L466.58,1195.52 L474.77,1199.72 L482.95,1204.72 L491.13,1212.51 L499.32,1211.11 L507.50,1214.71 L515.68,1217.51 L523.87,1217.71 L532.05,1214.11 L540.23,1210.11 L548.41,1208.11 L556.60,1205.71 L564.78,1202.12 L572.96,1196.72 L581.15,1199.72 L589.33,1202.72 L597.51,1206.11 L605.69,1203.72 L613.88,1201.72 L622.06,1205.12 L630.24,1202.12 L638.43,1196.72 L646.61,1190.72 L654.79,1187.72 L662.98,1196.52 L671.16,1201.52 L679.34,1202.12 L687.52,1202.72 L695.71,1205.71 L703.89,1216.71 L712.07,1220.51 L720.26,1219.51 L728.44,1224.71 L736.62,1225.51 L744.81,1222.11 L752.99,1216.71 L761.17,1219.51 L769.35,1228.51 L777.54,1229.50 L785.72,1222.11 L793.90,1213.51 L802.09,1211.11 L810.27,1210.51 L818.45,1208.71 L826.64,1209.51 L834.82,1210.51 L843.00,1210.51 L851.18,1206.71 L859.37,1201.72 L867.55,1199.12 L875.73,1198.12 L883.92,1195.52 L892.10,1197.72 L900.28,1192.52 L908.47,1193.72 L916.65,1193.12 L924.83,1198.52 L933.01,1198.12 L941.20,1200.12 L949.38,1196.92 L957.56,1197.52 L965.75,1192.52 L973.93,1194.12 L982.11,1197.12 L990.30,1200.72 L998.48,1200.72 L1006.66,1192.12 L1014.84,1187.72 L1023.03,1183.12 L1031.21,1182.72 L1039.39,1178.53 L1047.58,1176.53 L1055.76,1176.53 L1063.94,1180.73 L1072.13,1181.52 L1080.31,1180.13 L1088.49,1175.73 L1096.67,1174.53 L1104.86,1180.73 L1113.04,1190.12 L1121.22,1202.12 L1129.41,1203.52 L1137.59,1200.12 L1145.77,1191.52 L1153.96,1188.72 L1162.14,1188.12"/>
<path class="r" d="M73.80,1302.50 L81.98,1311.07 L90.17,1312.07 L98.35,1322.47 L106.53,1316.47 L114.72,1319.07 L122.90,1305.07 L131.08,1299.68 L139.26,1285.48 L147.45,1281.08 L155.63,1275.69 L163.81,1279.68 L172.00,1282.08 L180.18,1283.68 L188.36,1294.08 L196.55,1299.48 L204.73,1306.07 L212.91,1296.48 L221.09,1290.08 L229.28,1282.08 L237.46,1278.08 L245.64,1278.08 L253.83,1284.48 L262.01,1288.08 L270.19,1289.48 L278.38,1286.08 L286.56,1282.68 L294.74,1283.68 L302.92,1283.48 L311.11,1280.68 L319.29,1274.49 L327.47,1282.68 L335.66,1280.08 L343.84,1287.08 L352.02,1273.09 L360.20,1283.48 L368.39,1278.08 L376.57,1286.08 L384.75,1284.68 L392.94,1293.68 L401.12,1292.08 L409.30,1294.68 L417.49,1295.08 L425.67,1303.07 L433.85,1303.47 L442.04,1297.48 L450.22,1291.08 L458.40,1290.68 L466.58,1297.48 L474.77,1300.48 L482.95,1300.68 L491.13,1295.68 L499.32,1290.48 L507.50,1285.08 L515.68,1280.08 L523.87,1276.69 L532.05,1273.79 L540.23,1273.49 L548.41,1276.09 L556.60,1272.49 L564.78,1268.69 L572.96,1264.69 L581.15,1269.09 L589.33,1276.49 L597.51,1271.69 L605.69,1271.49 L613.88,1267.69 L622.06,1275.49 L630.24,1273.49 L638.43,1279.68 L646.61,1278.68 L654.79,1279.68 L662.98,1273.09 L671.16,1271.49 L679.34,1271.09 L687.52,1267.09 L695.71,1267.09 L703.89,1266.49 L712.07,1274.09 L720.26,1276.09 L728.44,1278.48 L736.62,1278.48 L744.81,1280.38 L752.99,1282.28 L761.17,1284.08 L769.35,1286.08 L777.54,1283.08 L785.72,1278.08 L793.90,1275.09 L802.09,1268.69 L810.27,1266.69 L818.45,1260.69 L826.64,1262.49 L834.82,1260.69 L843.00,1261.09 L851.18,1258.09 L859.37,1264.69 L867.55,1260.69 L875.73,1262.69 L883.92,1257.69 L892.10,1267.69 L900.28,1264.09 L908.47,1258.69 L916.65,1246.50 L924.83,1247.50 L933.01,1249.50 L941.20,1246.10 L949.38,1244.90 L957.56,1246.70 L965.75,1253.79 L973.93,1257.09 L982.11,1261.09 L990.30,1261.49 L998.48,1263.49 L1006.66,1258.09 L1014.84,1250.70 L1023.03,1241.10 L1031.21,1240.50 L1039.39,1250.70 L1047.58,1261.09 L1055.76,1255.49 L1063.94,1250.10 L1072.13,1241.10 L1080.31,1237.10 L1088.49,1236.50 L1096.67,1239.50 L1104.86,1256.09 L1113.04,1268.09 L1121.22,1280.68 L1129.41,1293.48 L1137.59,1295.48 L1145.77,1287.08 L1153.96,1275.49 L1162.14,1266.09"/>
<path class="b" d="M73.80,1244.44 L81.98,1253.50 L90.17,1255.09 L98.35,1262.09 L106.53,1260.69 L114.72,1264.69 L122.90,1257.49 L131.08,1248.70 L139.26,1239.50 L147.45,1236.10 L155.63,1237.10 L163.81,1236.70 L172.00,1239.10 L180.18,1239.50 L188.36,1246.50 L196.55,1248.10 L204.73,1251.10 L212.91,1240.70 L221.09,1234.70 L229.28,1228.11 L237.46,1228.51 L245.64,1233.50 L253.83,1233.50 L262.01,1235.10 L270.19,1234.70 L278.38,1240.10 L286.56,1242.70 L294.74,1243.10 L302.92,1242.10 L311.11,1236.10 L319.29,1233.50 L327.47,1232.50 L335.66,1236.10 L343.84,1239.50 L352.02,1237.70 L360.20,1238.10 L368.39,1235.10 L376.57,1240.10 L384.75,1245.50 L392.94,1251.10 L401.12,1252.10 L409.30,1254.69 L417.49,1257.49 L425.67,1259.49 L433.85,1253.69 L442.04,1246.70 L450.22,1244.10 L458.40,1241.50 L466.58,1241.10 L474.77,1241.50 L482.95,1248.10 L491.13,1252.10 L499.32,1254.09 L507.50,1250.10 L515.68,1246.10 L523.87,1242.70 L532.05,1239.80 L540.23,1240.10 L548.41,1241.10 L556.60,1240.50 L564.78,1238.50 L572.96,1235.50 L581.15,1238.10 L589.33,1239.10 L597.51,1237.70 L605.69,1234.70 L613.88,1233.10 L622.06,1235.10 L630.24,1232.50 L638.43,1230.10 L646.61,1228.11 L654.79,1229.11 L662.98,1234.50 L671.16,1239.10 L679.34,1242.70 L687.52,1241.50 L695.71,1241.10 L703.89,1242.50 L712.07,1245.70 L720.26,1246.50 L728.44,1251.10 L736.62,1253.10 L744.81,1254.69 L752.99,1252.70 L761.17,1252.70 L769.35,1255.69 L777.54,1255.49 L785.72,1251.10 L793.90,1244.10 L802.09,1238.10 L810.27,1236.50 L818.45,1235.10 L826.64,1234.70 L834.82,1234.10 L843.00,1235.10 L851.18,1233.50 L859.37,1231.70 L867.55,1228.51 L875.73,1228.11 L883.92,1227.51 L892.10,1229.11 L900.28,1224.11 L908.47,1219.11 L916.65,1217.11 L924.83,1217.71 L933.01,1220.51 L941.20,1220.11 L949.38,1221.71 L957.56,1222.11 L965.75,1223.61 L973.93,1224.71 L982.11,1227.71 L990.30,1228.11 L998.48,1227.51 L1006.66,1222.51 L1014.84,1217.11 L1023.03,1212.51 L1031.21,1210.11 L1039.39,1210.71 L1047.58,1211.11 L1055.76,1210.11 L1063.94,1208.51 L1072.13,1207.71 L1080.31,1205.51 L1088.49,1207.71 L1096.67,1209.71 L1104.86,1218.71 L1113.04,1228.71 L1121.22,1243.10 L1129.41,1246.10 L1137.59,1247.10 L1145.77,1235.50 L1153.96,1230.50 L1162.14,1223.71"/>
<path class="z" d="M74.5,1241.5H1162.5"/>
<path class="o" d="M73.80,1272.68 L81.98,1258.50 L90.17,1252.03 L98.35,1249.92 L106.53,1251.43 L114.72,1250.83 L122.90,1246.49 L131.08,1237.59 L139.26,1228.26 L147.45,1221.64 L155.63,1214.42 L163.81,1221.64 L172.00,1235.18 L180.18,1253.54 L188.36,1262.56 L196.55,1269.18 L204.73,1274.30 L212.91,1278.81 L221.09,1279.41 L229.28,1275.80 L237.46,1267.38 L245.64,1255.64 L253.83,1250.83 L262.01,1247.82 L270.19,1242.70 L278.38,1231.57 L286.56,1224.65 L294.74,1223.15 L302.92,1223.45 L311.11,1222.24 L319.29,1225.25 L327.47,1234.58 L335.66,1244.81 L343.84,1251.13 L352.02,1253.23 L360.20,1256.54 L368.39,1263.46 L376.57,1270.38 L384.75,1276.70 L392.94,1279.71 L401.12,1281.52 L409.30,1282.42 L417.49,1280.01 L425.67,1276.40 L433.85,1275.80 L442.04,1277.61 L450.22,1278.21 L458.40,1277.30 L466.58,1273.39 L474.77,1266.77 L482.95,1259.25 L491.13,1254.14 L499.32,1250.83 L507.50,1243.00 L515.68,1237.44 L523.87,1232.93 L532.05,1232.47 L540.23,1233.38 L548.41,1235.78 L556.60,1231.27 L564.78,1225.85 L572.96,1221.04 L581.15,1221.64 L589.33,1226.46 L597.51,1236.99 L605.69,1249.02 L613.88,1255.04 L622.06,1254.44 L630.24,1251.43 L638.43,1251.43 L646.61,1255.64 L654.79,1260.15 L662.98,1260.76 L671.16,1254.74 L679.34,1248.72 L687.52,1244.21 L695.71,1242.70 L703.89,1244.21 L712.07,1247.82 L720.26,1253.23 L728.44,1258.65 L736.62,1261.06 L744.81,1259.85 L752.99,1257.15 L761.17,1255.64 L769.35,1252.03 L777.54,1244.81 L785.72,1233.98 L793.90,1226.91 L802.09,1226.46 L810.27,1233.08 L818.45,1240.60 L826.64,1243.00 L834.82,1238.19 L843.00,1227.06 L851.18,1216.23 L859.37,1208.10 L867.55,1204.19 L875.73,1197.72 L883.92,1189.15 L892.10,1182.53 L900.28,1179.52 L908.47,1182.83 L916.65,1186.74 L924.83,1192.76 L933.01,1197.72 L941.20,1203.59 L949.38,1210.21 L957.56,1212.77 L965.75,1211.56 L973.93,1207.20 L982.11,1202.99 L990.30,1200.13 L998.48,1199.38 L1006.66,1200.13 L1014.84,1200.13 L1023.03,1202.09 L1031.21,1205.09 L1039.39,1207.50 L1047.58,1208.70"/>
</g>
<path class="t" d="M172.5,1361.5v5.3M287.5,1361.5v5.3M426.5,1361.5v5.3M540.5,1361.5v5.3M679.5,1361.5v5.3M794.5,1361.5v5.3M908.5,1361.5v5.3M1023.5,1361.5v5.3M1162.5,1361.5v5.3M74.5,1361.5h-5.3M74.5,1331.5h-5.3M74.5,1301.5h-5.3M74.5,1271.5h-5.3M74.5,1241.5h-5.3M74.5,1211.5h-5.3M74.5,1181.5h-5.3M74.5,1150.5h-5.3M74.5,1120.5h-5.3"/>
<path class="sp" d="M74.5,1120.5H1162.5V1361.5H74.5Z"/>
<text class="tk" x="172.3" y="1382" text-anchor="middle">01 Dec</text>
<text class="tk" x="286.5" y="1382" text-anchor="middle">15 Dec</text>
<text class="tk" x="425.7" y="1382" text-anchor="middle">01 Jan</text>
<text class="tk" x="539.7" y="1382" text-anchor="middle">15 Jan</text>
<text class="tk" x="679.3" y="1382" text-anchor="middle">01 Feb</text>
<text class="tk" x="793.7" y="1382" text-anchor="middle">15 Feb</text>
<text class="tk" x="908.0" y="1382" text-anchor="middle">01 Mar</text>
<text class="tk" x="1022.9" y="1382" text-anchor="middle">15 Mar</text>
<text class="tk" x="1162.0" y="1382" text-anchor="middle">01 Apr</text>
<text class="tk" x="62.65" y="1367" text-anchor="end" style="letter-spacing:-1px">−4</text>
<text class="tk" x="62.65" y="1337" text-anchor="end" style="letter-spacing:-1px">−3</text>
<text class="tk" x="62.65" y="1307" text-anchor="end" style="letter-spacing:-1px">−2</text>
<text class="tk" x="62.65" y="1276" text-anchor="end" style="letter-spacing:-1px">−1</text>
<text class="tk" x="64.65" y="1246" text-anchor="end">0</text>
<text class="tk" x="64.65" y="1216" text-anchor="end">1</text>
<text class="tk" x="63.95" y="1186" text-anchor="end">2</text>
<text class="tk" x="63.95" y="1156" text-anchor="end">3</text>
<text class="tk" x="64.65" y="1126" text-anchor="end">4</text>
<text class="yl" transform="translate(34.3,1244.2) rotate(-90)">Index</text>
<text class="pt" x="74.0" y="1112">500mb Z (14 day Forecast)</text>
<text class="rt" x="1162.1" y="1112">mean=0.0778; cor(w/obs)=0.6665</text>
</g>
</svg>
</body>
</html>
